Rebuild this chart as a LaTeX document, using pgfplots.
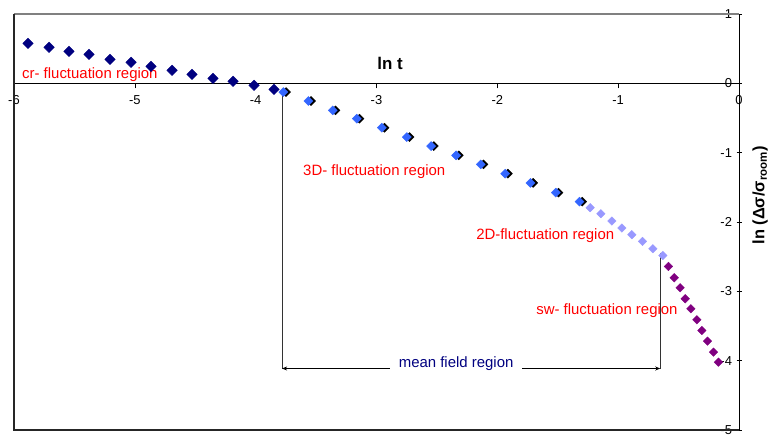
\documentclass[border=0pt]{standalone}
\usepackage{pgfplots}
\pgfplotsset{compat=1.18}
\usetikzlibrary{arrows.meta}
\usepackage{fontspec}
\setmainfont{Liberation Sans}
\definecolor{navyc}{RGB}{0,0,128}
\definecolor{bluec}{RGB}{51,102,255}
\definecolor{lightc}{RGB}{153,153,255}
\definecolor{purplec}{RGB}{128,0,128}
\definecolor{redc}{RGB}{255,0,0}
\begin{document}
\begin{tikzpicture}
\useasboundingbox (-14bp,-8bp) rectangle (768bp,430bp);
\begin{axis}[
  at={(0bp,0bp)}, anchor=south west,
  scale only axis, width=725bp, height=416bp,
  xmin=-6, xmax=0, ymin=-5, ymax=1,
  axis x line=middle, axis y line=middle,
  axis line style={-, black, line width=0.9bp},
  hide obscured x ticks=false, hide obscured y ticks=false,
  xtick={-6,-5,-4,-3,-2,-1,0}, ytick={-5,-4,-3,-2,-1,0,1},
  tick style={black, line width=0.6bp},
  major tick length=5bp,
  x tick style={yshift=-2.5bp},
  tick align=center,
  /pgf/number format/assume math mode=true,
  tick label style={font=\fontsize{13}{15}\selectfont},
  xticklabel style={anchor=north, yshift=-6bp},
  yticklabel style={anchor=east, xshift=-1bp},
  clip=false,
]
% frame of the plot area
\draw[gray, line width=1.3bp] (axis cs:-6,1) -- (axis cs:0,1);
\draw[black!85, line width=1.3bp] (axis cs:-6,1) -- (axis cs:-6,-5) -- (axis cs:0,-5);

% cr region (navy)
\addplot[only marks, mark=square*, mark size=3.7bp, mark options={rotate=45, draw=navyc, fill=navyc}] coordinates {
(-5.884,0.577) (-5.710,0.520) (-5.545,0.462) (-5.379,0.418) (-5.205,0.346)
(-5.031,0.303) (-4.866,0.245) (-4.692,0.188) (-4.527,0.130) (-4.353,0.072)
(-4.187,0.029) (-4.013,-0.029) (-3.848,-0.087)
};
% 3D region shadow
\addplot[only marks, mark=square*, mark size=3.2bp, mark options={rotate=45, draw=black, fill=black, xshift=1.9bp, yshift=-1.9bp}] coordinates {
(-3.771,-0.126) (-3.564,-0.255) (-3.362,-0.390) (-3.163,-0.510) (-2.956,-0.640)
(-2.749,-0.775) (-2.548,-0.905) (-2.341,-1.039) (-2.137,-1.169) (-1.935,-1.303)
(-1.726,-1.436) (-1.516,-1.576) (-1.320,-1.706)
};
% 3D region (blue)
\addplot[only marks, mark=square*, mark size=3.2bp, mark options={rotate=45, draw=bluec, fill=bluec}] coordinates {
(-3.771,-0.126) (-3.564,-0.255) (-3.362,-0.390) (-3.163,-0.510) (-2.956,-0.640)
(-2.749,-0.775) (-2.548,-0.905) (-2.341,-1.039) (-2.137,-1.169) (-1.935,-1.303)
(-1.726,-1.436) (-1.516,-1.576) (-1.320,-1.706)
};
% 2D region (light blue)
\addplot[only marks, mark=square*, mark size=3.0bp, mark options={rotate=45, draw=lightc, fill=lightc}] coordinates {
(-1.232,-1.793) (-1.143,-1.880) (-1.052,-1.986) (-0.969,-2.087)
(-0.887,-2.183) (-0.799,-2.280) (-0.713,-2.385) (-0.630,-2.482)
};
% sw region (purple)
\addplot[only marks, mark=square*, mark size=3.0bp, mark options={rotate=45, draw=purplec, fill=purplec}] coordinates {
(-0.584,-2.641) (-0.536,-2.804) (-0.487,-2.948) (-0.445,-3.107) (-0.398,-3.251)
(-0.348,-3.410) (-0.307,-3.564) (-0.261,-3.718) (-0.211,-3.877) (-0.170,-4.022)
};

% annotations
\node[anchor=west, text=redc, font=\fontsize{15}{17}\selectfont, inner sep=0pt] at (axis cs:-5.934,0.130) {cr- fluctuation region};
\node[anchor=west, text=redc, font=\fontsize{15}{17}\selectfont, inner sep=0pt] at (axis cs:-3.608,-1.270) {3D- fluctuation region};
\node[anchor=west, text=redc, font=\fontsize{15}{17}\selectfont, inner sep=0pt] at (axis cs:-2.176,-2.203) {2D-fluctuation region};
\node[anchor=west, text=redc, font=\fontsize{15}{17}\selectfont, inner sep=0pt] at (axis cs:-1.679,-3.276) {sw- fluctuation region};

\draw[black!80, line width=0.8bp] (axis cs:-3.781,-0.13) -- (axis cs:-3.781,-4.113);
\draw[black!80, line width=0.8bp] (axis cs:-0.652,-2.44) -- (axis cs:-0.652,-4.113);
\draw[black, line width=0.8bp, {Stealth[length=5bp,width=4bp]}-{Stealth[length=5bp,width=4bp]}] (axis cs:-3.781,-4.113) -- (axis cs:-0.652,-4.113);
\node[fill=white, text=navyc, font=\fontsize{15}{17}\selectfont, inner xsep=9bp, inner ysep=3bp] at (axis cs:-2.341,-4.040) {mean field region};

\node[font=\bfseries\fontsize{17}{19}\selectfont] at (axis cs:-2.887,0.293) {ln t};
\node[rotate=90, font=\bfseries\fontsize{16.5}{19}\selectfont] at (axis cs:0.175,-1.616) {ln (Δσ/σ\textsubscript{room})};
\end{axis}
\end{tikzpicture}
\end{document}
